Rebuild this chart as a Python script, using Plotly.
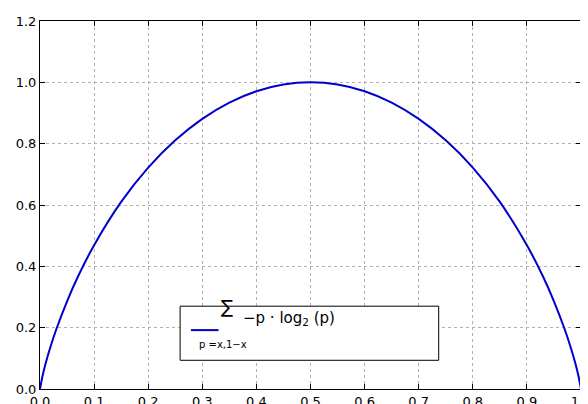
import plotly.graph_objects as go

x_vals = [0.0, 0.005, 0.01, 0.02, 0.03, 0.05, 0.07, 0.1, 0.15, 0.2, 0.25, 0.3, 0.35, 0.4, 0.45, 0.5,
          0.55, 0.6, 0.65, 0.7, 0.75, 0.8, 0.85, 0.9, 0.93, 0.95, 0.97, 0.98, 0.99, 0.995, 1.0]
y_vals = [0.0, 0.045, 0.081, 0.141, 0.194, 0.286, 0.366, 0.469, 0.610, 0.722, 0.811, 0.881, 0.934, 0.971, 0.993, 1.0,
          0.993, 0.971, 0.934, 0.881, 0.811, 0.722, 0.610, 0.469, 0.366, 0.286, 0.194, 0.141, 0.081, 0.045, 0.0]
x_ticks = [0.0, 0.1, 0.2, 0.3, 0.4, 0.5, 0.6, 0.7, 0.8, 0.9, 1.0]
y_ticks = [0.0, 0.2, 0.4, 0.6, 0.8, 1.0, 1.2]

fig = go.Figure(go.Scatter(x=x_vals, y=y_vals, mode="lines", line=dict(color="#0000cc", width=2, shape="spline"),
                           showlegend=False, cliponaxis=False))
ax = dict(showline=True, linecolor="black", linewidth=1, mirror="allticks", ticks="inside", ticklen=5,
          tickcolor="black", showgrid=True, gridcolor="#b0b0b0", griddash="dot", gridwidth=1, zeroline=False,
          automargin=False, tickfont=dict(family="DejaVu Sans", size=13, color="black"))
fig.update_xaxes(range=[0, 1], tickvals=x_ticks, ticktext=[f"{v:.1f}" for v in x_ticks], **ax)
fig.update_yaxes(range=[0, 1.2], tickvals=y_ticks, ticktext=[f"{v:.1f}" for v in y_ticks], **ax)
fig.add_shape(type="rect", xref="paper", yref="paper", x0=0.259, x1=0.737, y0=0.078, y1=0.225,
              line=dict(color="black", width=1), fillcolor="white", layer="above")
fig.add_shape(type="line", xref="paper", yref="paper", x0=0.279, x1=0.33, y0=0.16, y1=0.16,
              line=dict(color="#0000cc", width=2), layer="above")
fig.add_annotation(xref="paper", yref="paper", x=0.345, y=0.19, text="∑", showarrow=False,
                   font=dict(family="DejaVu Sans", size=18, color="black"))
fig.add_annotation(xref="paper", yref="paper", x=0.338, y=0.10, text="p =x,1−x", showarrow=False,
                   font=dict(family="DejaVu Sans", size=10, color="black"))
fig.add_annotation(xref="paper", yref="paper", x=0.372, y=0.16, xanchor="left",
                   text="−p · log<sub>2</sub> (p)", showarrow=False,
                   font=dict(family="DejaVu Sans", size=15, color="black"))
fig.update_layout(width=588, height=404, margin=dict(l=32, r=15, t=13, b=23),
                  plot_bgcolor="white", paper_bgcolor="white")
fig.write_html("out.html")
